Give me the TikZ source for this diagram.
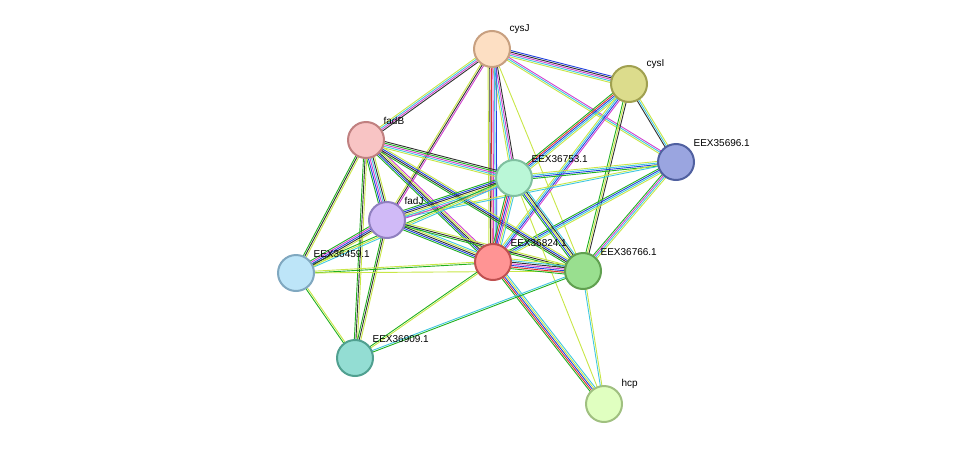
\documentclass[tikz,border=0pt]{standalone}
\usepackage{fontspec}
\setmainfont{Liberation Sans}
\usetikzlibrary{calc,backgrounds}
\definecolor{yg}{HTML}{C8E646}
\definecolor{gn}{HTML}{20B020}
\definecolor{cy}{HTML}{40C8E0}
\definecolor{mg}{HTML}{D040D0}
\definecolor{bl}{HTML}{2040E0}
\definecolor{rd}{HTML}{E03030}
\definecolor{bk}{HTML}{303030}
\tikzset{
  prot/.style={circle, minimum size=36pt, inner sep=0pt, line width=2pt},
  lab/.style={font=\fontsize{10}{11}\selectfont, inner sep=0pt, anchor=south west, xshift=4pt, yshift=2pt}
}
% bundle of parallel coloured lines between two nodes
\newcommand\edge[3]{%
  \foreach \c [count=\i] in {#3}{\xdef\ncol{\i}}
  \foreach \c [count=\i] in {#3}{
    \pgfmathsetmacro\off{(\i-(\ncol+1)/2)*1.6}
    \draw[\c, line width=0.9pt] ($(#1)!\off pt!90:(#2)$) -- ($(#2)!\off pt!-90:(#1)$);
  }
}
\begin{document}
\begin{tikzpicture}[x=1pt, y=-1pt]
  \useasboundingbox (0,0) rectangle (976,450);
  \node[prot, fill={rgb,255:red,253;green,223;blue,195}, draw={rgb,255:red,200;green,160;blue,128}, label={[lab]45:cysJ}] (cysJ) at (492,49) {};
  \node[prot, fill={rgb,255:red,220;green,220;blue,140}, draw={rgb,255:red,160;green,160;blue,80}, label={[lab]45:cysI}] (cysI) at (629,84) {};
  \node[prot, fill={rgb,255:red,248;green,196;blue,196}, draw={rgb,255:red,192;green,128;blue,128}, label={[lab]45:fadB}] (fadB) at (366,140) {};
  \node[prot, fill={rgb,255:red,154;green,165;blue,224}, draw={rgb,255:red,80;green,96;blue,160}, label={[lab]45:EEX35696.1}] (e35696) at (676,162) {};
  \node[prot, fill={rgb,255:red,186;green,247;blue,215}, draw={rgb,255:red,128;green,192;blue,160}, label={[lab]45:EEX36753.1}] (e36753) at (514,178) {};
  \node[prot, fill={rgb,255:red,208;green,186;blue,247}, draw={rgb,255:red,144;green,128;blue,192}, label={[lab]45:fadJ}] (fadJ) at (387,220) {};
  \node[prot, fill={rgb,255:red,189;green,229;blue,248}, draw={rgb,255:red,128;green,168;blue,192}, label={[lab]45:EEX36459.1}] (e36459) at (296,273) {};
  \node[prot, fill={rgb,255:red,255;green,148;blue,148}, draw={rgb,255:red,192;green,80;blue,80}, label={[lab]45:EEX36824.1}] (e36824) at (493,262) {};
  \node[prot, fill={rgb,255:red,153;green,223;blue,143}, draw={rgb,255:red,96;green,160;blue,80}, label={[lab]45:EEX36766.1}] (e36766) at (583,271) {};
  \node[prot, fill={rgb,255:red,147;green,221;blue,211}, draw={rgb,255:red,80;green,160;blue,144}, label={[lab]45:EEX36909.1}] (e36909) at (355,358) {};
  \node[prot, fill={rgb,255:red,224;green,255;blue,192}, draw={rgb,255:red,160;green,192;blue,128}, label={[lab]45:hcp}] (hcp) at (604,404) {};
  \begin{pgfonlayer}{background}
    \edge{cysJ}{cysI}{yg,cy,mg,bk,bl}
    \edge{cysJ}{e35696}{yg,cy,mg}
    \edge{cysJ}{e36753}{yg,cy,mg,bk}
    \edge{cysJ}{e36824}{yg,bk,rd,mg,cy,bl}
    \edge{cysJ}{fadB}{yg,cy,mg,bk}
    \edge{cysJ}{fadJ}{yg,bk,mg}
    \edge{cysJ}{e36766}{yg}
    \edge{cysI}{e35696}{bk,cy,yg}
    \edge{cysI}{e36753}{gn,rd,bl,cy,yg}
    \edge{cysI}{e36824}{yg,cy,bl,mg}
    \edge{cysI}{e36766}{gn,yg,bk}
    \edge{e35696}{e36753}{yg,cy,bl,gn}
    \edge{e35696}{e36824}{gn,bl,cy,yg}
    \edge{e35696}{e36766}{gn,mg,cy,yg}
    \edge{e35696}{fadJ}{yg,cy}
    \edge{fadB}{e36753}{yg,cy,mg,gn,bk}
    \edge{fadB}{fadJ}{gn,bl,mg,cy,bk,yg}
    \edge{fadB}{e36824}{gn,bl,bk,yg,mg}
    \edge{fadB}{e36766}{gn,bk,bl,yg}
    \edge{fadB}{e36459}{gn,bk,yg}
    \edge{fadB}{e36909}{gn,bk,yg}
    \edge{e36753}{fadJ}{gn,bl,bk,yg,cy,mg}
    \edge{e36753}{e36824}{gn,rd,bl,mg,yg,cy}
    \edge{e36753}{e36766}{gn,bl,yg,bk,cy}
    \edge{e36753}{e36459}{gn,yg,cy}
    \edge{e36753}{hcp}{yg}
    \edge{fadJ}{e36824}{gn,bl,bk,yg,cy}
    \edge{fadJ}{e36766}{gn,bk,yg}
    \edge{fadJ}{e36459}{gn,mg,bl,bk,yg}
    \edge{fadJ}{e36909}{gn,bk,yg}
    \edge{e36459}{e36824}{gn,yg}
    \edge{e36459}{e36909}{gn,yg}
    \edge{e36459}{e36766}{yg}
    \edge{e36824}{e36766}{gn,rd,bl,mg,bk,cy,yg}
    \edge{e36824}{e36909}{gn,yg}
    \edge{e36824}{hcp}{gn,rd,bl,yg,cy}
    \edge{e36766}{hcp}{cy,yg}
    \edge{e36766}{e36909}{cy,gn}
  \end{pgfonlayer}
\end{tikzpicture}
\end{document}
